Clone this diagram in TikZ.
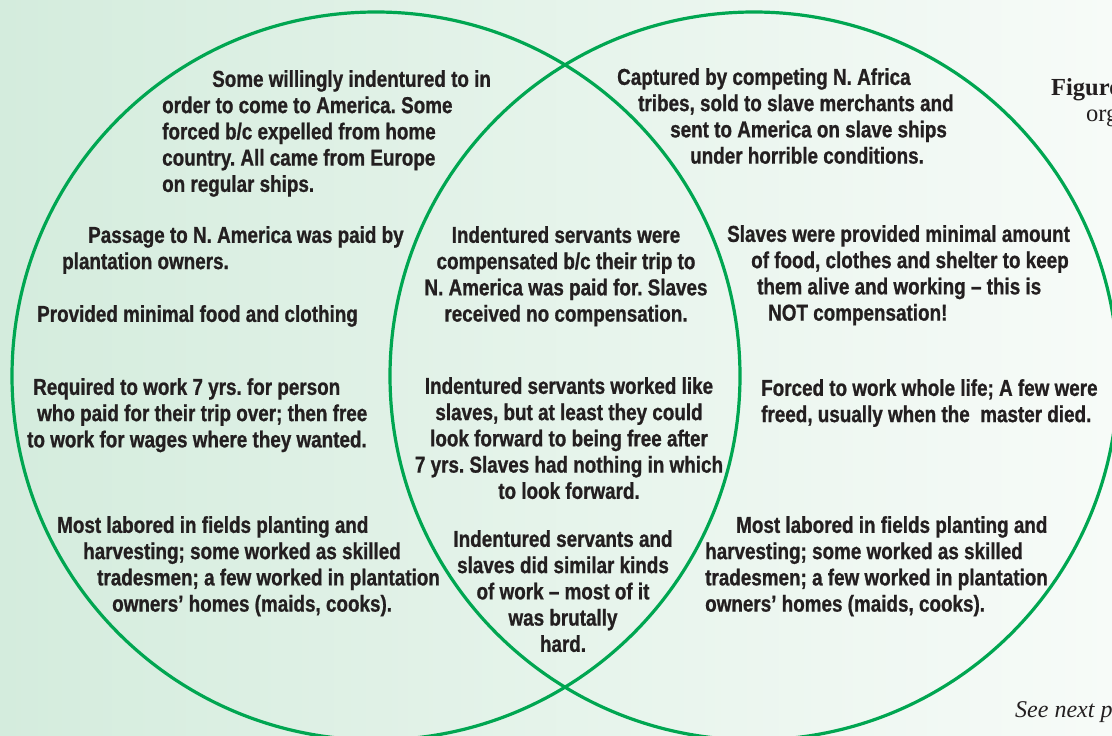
\documentclass[tikz,border=0pt]{standalone}
\usepackage{fontspec}
\newfontfamily\vennfont{Liberation Sans}[FakeStretch=0.82, BoldFeatures={FakeBold=0.9}]
\newfontfamily\timesfont{Liberation Serif}
\usetikzlibrary{math}
\frenchspacing

\definecolor{venngreen}{RGB}{0,166,81}
\definecolor{inkgray}{RGB}{35,31,32}
\definecolor{bgleft}{RGB}{212,236,221}
\definecolor{bgright}{RGB}{247,251,248}

\tikzset{
  vennline/.style={draw=venngreen, line width=3.2pt},
  venntext/.style={font=\vennfont\bfseries\fontsize{23}{26.25}\selectfont, text=inkgray,
    inner sep=0pt, align=left, anchor=north west},
  midtext/.style={venntext, align=center, anchor=north},
  sidenote/.style={font=\timesfont\fontsize{24.5}{28}\selectfont, text=inkgray, inner sep=0pt, anchor=base west}
}

\begin{document}
\frenchspacing
\begin{tikzpicture}[x=1pt, y=-1pt]

    \tikzmath{\cy = 376; \rr = 364;};
    \tikzmath{\xl = 376; \xr = 754;};
    \useasboundingbox (0,0) rectangle (1112,736);
    \clip (0,0) rectangle (1112,736);
    \shade[left color=bgleft, right color=bgright] (0,0) rectangle (1112,736);

    % the two circles
    \draw[vennline] (\xl,\cy) circle (\rr pt);
    \draw[vennline] (\xr,\cy) circle (\rr pt);

    % indentured servants
    \node[venntext] (indArrive) at (162,70) {\hspace*{50pt}Some willingly indentured to in\\
      order to come to America. Some\\ forced b/c expelled from home\\
      country. All came from Europe\\ on regular ships.};
    \node[venntext] (indPassage) at (62,226) {\hspace*{26pt}Passage to N. America was paid by\\
      plantation owners.};
    \node[venntext] (indFood) at (37,305) {Provided minimal food and clothing};
    \node[venntext] (indYears) at (27,378) {\hspace*{6pt}Required to work 7 yrs. for person\\
      \hspace*{10pt}who paid for their trip over; then free\\
      to work for wages where they wanted.};
    \node[venntext] (indLabor) at (57,516) {Most labored in fields planting and\\
      \hspace*{26pt}harvesting; some worked as skilled\\
      \hspace*{40pt}tradesmen; a few worked in plantation\\
      \hspace*{55pt}owners’ homes (maids, cooks).};

    % both
    \node[midtext] (bothPaid) at (566,226) {Indentured servants were\\
      compensated b/c their trip to\\ N. America was paid for. Slaves\\
      received no compensation.};
    \node[midtext] (bothFree) at (569,377) {Indentured servants worked like\\
      slaves, but at least they could\\ look forward to being free after\\
      7 yrs. Slaves had nothing in which\\ to look forward.};
    \node[midtext] (bothWork) at (563,530) {Indentured servants and\\
      slaves did similar kinds\\ of work – most of it\\ was brutally\\ hard.};

    % slaves
    \node[venntext] (slvCaptured) at (617,68) {Captured by competing N. Africa\\
      \hspace*{21pt}tribes, sold to slave merchants and\\
      \hspace*{53pt}sent to America on slave ships\\
      \hspace*{73pt}under horrible conditions.};
    \node[venntext] (slvMinimal) at (727,225) {Slaves were provided minimal amount\\
      \hspace*{24pt}of food, clothes and shelter to keep\\
      \hspace*{30pt}them alive and working – this is\\
      \hspace*{41pt}NOT compensation!};
    \node[venntext] (slvLife) at (761,379) {Forced to work whole life; A few were\\
      freed, usually when the \ master died.};
    \node[venntext] (slvLabor) at (705,516) {\hspace*{31pt}Most labored in fields planting and\\
      harvesting; some worked as skilled\\ tradesmen; a few worked in plantation\\
      owners’ homes (maids, cooks).};

    % page text
    \node[sidenote, font=\timesfont\bfseries\fontsize{24.5}{28}\selectfont] (figLabel) at (1051,95) {Figure};
    \node[sidenote] (figOrg) at (1086,121) {org};
    \node[sidenote, font=\timesfont\itshape\fontsize{24}{28}\selectfont] (seeNext) at (1015,717) {See next p};

\end{tikzpicture}
\end{document}
